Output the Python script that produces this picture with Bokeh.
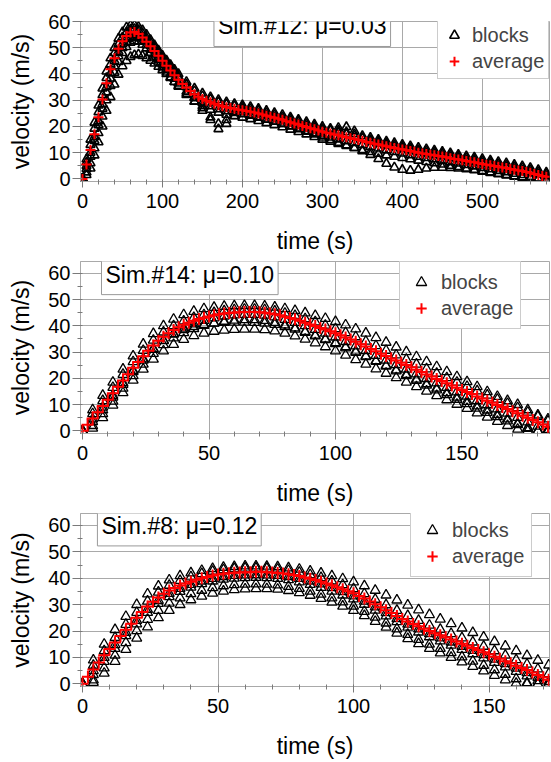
from bokeh.plotting import figure
from bokeh.layouts import column
from bokeh.models import Label, Legend, LegendItem, SingleIntervalTicker, FixedTicker, Range1d
from bokeh.embed import file_html
from bokeh.resources import INLINE

FONT = "Liberation Sans"

# ---------------- Panel 1: Sim.#12, mu=0.03 ----------------
t1_avg = list(range(0, 585, 5))
v1_avg = [0, 5.5, 11, 17, 23.5, 30.3, 36.5, 41.8, 46, 49.6, 52.5, 54.5, 55.8, 56, 55.2, 53.9, 52.3, 50.6,
          48.8, 46.9, 45, 43.1, 41.3, 39.5, 37.8, 36.2, 34.8, 33.5, 32.3, 31.3, 30.5, 29.8, 29.2, 28.6,
          28.1, 27.7, 27.3, 27, 26.7, 26.4, 26.2, 25.9, 25.6, 25.3, 24.9, 24.5, 24.1, 23.7, 23.3, 22.9,
          22.5, 22, 21.6, 21.1, 20.7, 20.2, 19.8, 19.3, 18.9, 18.4, 18, 17.6, 17.3, 16.9, 16.6, 16.2,
          15.9, 15.5, 15.2, 14.8, 14.5, 14.1, 13.8, 13.4, 13.1, 12.7, 12.4, 12.1, 11.8, 11.5, 11.2, 10.9,
          10.6, 10.3, 10, 9.7, 9.5, 9.2, 9, 8.7, 8.5, 8.2, 7.9, 7.6, 7.4, 7.1, 6.8, 6.5, 6.3, 6, 5.7,
          5.4, 5.2, 4.9, 4.6, 4.3, 4.1, 3.8, 3.5, 3.2, 3, 2.6, 2.3, 1.9, 1.5, 1.1, 0.8]
t1_blk = list(range(0, 125, 5)) + list(range(130, 590, 10))
b1_1 = [0, 7.5, 15, 21.5, 28, 34.5, 41, 46, 50, 53.5, 56, 57.8, 58.5, 58.6, 58, 56.7, 55, 53, 51, 49,
        47, 45.2, 43.5, 41.7, 40,
        37, 34.5, 32.6, 31.2, 30.1, 29.3, 28.6, 28.1, 27.5, 26.8, 26, 25.2, 24.4, 23.5, 22.6, 21.7,
        20.8, 19.9, 19.2, 18.5, 17.8, 17.1, 16.4, 15.7, 15.0, 14.3, 13.7, 13.1, 12.5, 11.9, 11.4, 10.9,
        10.4, 9.8, 9.3, 8.7, 8.2, 7.6, 7.1, 6.5, 6.0, 5.4, 4.9, 4.2, 3.4, 2.5]
b1_2 = [0, 6.3, 13, 19.2, 25.5, 32, 38.5, 43.7, 48, 51.3, 54, 55.9, 57, 57.2, 56.8, 55.5, 53.8, 52.1,
        50.2, 48.3, 46.3, 44.4, 42.6, 40.8, 39,
        36, 33.5, 31.6, 30.3, 29.2, 28.4, 27.8, 27.3, 26.7, 26, 25.2, 24.4, 23.6, 22.7, 21.8, 20.9, 20,
        19.1, 18.4, 17.7, 17, 16.3, 15.6, 14.9, 14.2, 13.5, 12.9, 12.3, 11.7, 11.1, 10.6, 10.1, 9.6, 9,
        8.5, 7.9, 7.4, 6.8, 6.3, 5.7, 5.2, 4.6, 4.1, 3.4, 2.6, 1.8]
b1_3 = [0, 3.8, 8.5, 14.5, 20.5, 26.8, 33, 38.3, 43, 46.8, 50, 52.2, 53.8, 54.1, 53.8, 52.6, 51, 49.3,
        47.5, 45.6, 43.7, 41.8, 40, 38.2, 36.4,
        33.3, 30.8, 29, 27.7, 26.6, 25.8, 25.2, 24.7, 24.1, 23.4, 22.6, 21.8, 21, 20.1, 19.2, 18.3, 17.4,
        16.5, 15.8, 15.1, 14.4, 13.7, 13, 12.3, 11.6, 10.9, 10.3, 9.7, 9.1, 8.5, 8, 7.5, 7, 6.4, 5.9,
        5.3, 4.8, 4.2, 3.7, 3.1, 2.6, 2, 1.5, 0.8, 0.2, 0]
b1_4 = [0, 2.5, 6, 11.7, 17.5, 23.8, 30, 35.5, 40.5, 44.6, 48, 50.3, 52, 52.5, 52.3, 51.2, 49.8, 48.1,
        46.3, 44.4, 42.5, 40.6, 38.8, 37, 35.2,
        32, 29.5, 27.8, 26.4, 25.3, 24.5, 23.9, 23.4, 22.8, 22.1, 21.3, 20.5, 19.7, 18.8, 17.9, 17, 16,
        15, 14.2, 13.4, 12.6, 11.8, 11, 10.3, 9.6, 9, 8.5, 8, 7.5, 7, 6.5, 6, 5.5, 5, 4.5, 4, 3.5, 3,
        2.5, 2, 1.5, 1, 0.6, 0.2, 0, 0]
b1_5 = [0, 1.5, 4, 9, 14, 20, 26, 31.2, 36, 39.8, 43, 45, 46.5, 47.2, 47.5, 46.9, 46, 45.1, 44, 42.8,
        41.5, 40, 38.5, 37, 35.5,
        32.5, 29.5, 26, 22.5, 19, 21, 24, 25.5, 24.5, 23.5, 22.7, 21.9, 21, 20, 19, 18, 17, 15.8, 14.8,
        13.8, 12.8, 11.8, 10.6, 9.2, 7.6, 5.8, 4.4, 3.5, 3.2, 3.5, 4, 4.3, 4.3, 4.2, 4, 3.7, 3.3, 2.8,
        2.3, 1.8, 1.3, 0.9, 0.5, 0.2, 0, 0]
b1_6 = [0, 5, 10, 16, 22, 28.5, 35, 40.2, 45, 48.5, 51.5, 53.5, 55, 55.3, 55, 54, 52.5, 50.8, 49, 47.3,
        45.5, 43.8, 42, 40.2, 38.5,
        35, 31, 27, 23.5, 21, 22.5, 25.5, 26.5, 25.8, 25, 24.3, 23.6, 22.8, 21.8, 20.9, 20, 19.2, 18.5,
        18.5, 19.5, 19.8, 18.2, 15.5, 14.3, 13.5, 12.8, 12.2, 11.6, 11, 10.4, 9.8, 9.3, 8.8, 8.2, 7.7,
        7.1, 6.6, 6, 5.5, 4.9, 4.4, 3.8, 3.2, 2.6, 1.8, 1]

# ---------------- Panel 2: Sim.#14, mu=0.10 ----------------
t2_avg = list(range(0, 186, 2))
v2_avg = [0, 2.3, 4.7, 7.1, 9.5, 11.9, 14.3, 16.8, 19.2, 21.6, 24, 26.2, 28.4, 30.5, 32.5, 34.3, 35.8,
          37.2, 38.4, 39.5, 40.4, 41.2, 41.9, 42.6, 43.1, 43.6, 44, 44.4, 44.7, 44.9, 45.1, 45.2, 45.3,
          45.3, 45.3, 45.2, 45, 44.7, 44.4, 44, 43.5, 43, 42.5, 41.9, 41.2, 40.5, 39.9, 39.2, 38.6, 37.9,
          37.2, 36.4, 35.6, 34.8, 33.9, 33, 32.1, 31.2, 30.3, 29.4, 28.5, 27.6, 26.8, 25.9, 25.1, 24.2,
          23.3, 22.4, 21.5, 20.7, 19.8, 19, 18.1, 17.3, 16.4, 15.6, 14.8, 14, 13.1, 12.3, 11.5, 10.7, 9.9,
          9.1, 8.3, 7.5, 6.7, 5.8, 5, 4.1, 3.3, 2.4, 1.6]
t2_blk = list(range(0, 188, 4))
b2_1 = [0, 8, 13.5, 18.5, 23.5, 28.5, 33, 37, 40, 42.5, 44.2, 45.5, 46.5, 47, 47.4, 47.6, 47.7, 47.7,
        47.5, 47.1, 46.5, 45.8, 44.9, 43.9, 42.8, 41.6, 40.3, 38.8, 37.2, 35.5, 33.7, 31.9, 30.1, 28.2,
        26.3, 24.4, 22.5, 20.6, 18.7, 16.8, 14.9, 13.1, 11.5, 10, 8, 6, 4.5]
b2_2 = [0, 6.5, 11.5, 16.5, 21.5, 26.3, 30.6, 34.5, 37.6, 40, 41.8, 43.1, 44.2, 45, 45.7, 46.1, 46.3,
        46.3, 46.1, 45.6, 44.8, 43.9, 42.7, 41.5, 40.2, 38.9, 37.4, 35.8, 34.1, 32.4, 30.6, 28.9, 27.2,
        25.4, 23.6, 21.9, 20.2, 18.5, 16.9, 15.2, 13.6, 12, 10.4, 8.8, 7.1, 5.4, 3.7]
b2_3 = [0, 3.5, 8, 12.8, 17.7, 22.5, 26.9, 31, 34.3, 37, 39.1, 40.7, 42, 43, 43.7, 44.1, 44.3, 44.3,
        44, 43.4, 42.4, 41.3, 40, 38.6, 37.2, 35.7, 34, 32.3, 30.5, 28.7, 26.9, 25.2, 23.5, 21.7, 19.9,
        18.2, 16.5, 14.8, 13.2, 11.5, 9.9, 8.3, 6.7, 5.1, 3.4, 1.8, 0.5]
b2_4 = [0, 2, 6.5, 11.3, 16.2, 21, 25.4, 29.5, 32.8, 35.4, 37.4, 38.9, 40.1, 41, 41.7, 42.1, 42.3,
        42.3, 42, 41.3, 40.3, 39.2, 37.8, 36.4, 35, 33.6, 32, 30.3, 28.5, 26.7, 24.9, 23.2, 21.5, 19.7,
        17.9, 16.2, 14.5, 12.8, 11.2, 9.5, 7.9, 6.2, 4.5, 2.8, 1.2, 0, 0]
b2_5 = [0, 1, 5, 9.8, 14.5, 19.3, 23.5, 27.3, 30.4, 32.9, 34.8, 36.2, 37.2, 37.9, 38.3, 38.6, 38.7,
        38.7, 38.5, 38, 37.2, 36.1, 34.9, 33.5, 32, 30.4, 28.8, 27.1, 25.4, 23.6, 21.9, 20.2, 18.5, 16.8,
        15.1, 13.4, 11.8, 10.1, 8.5, 6.8, 5.2, 3.6, 2, 0.6, 0, 0, 0]
b2_6 = [0, 4.5, 9, 13.5, 18.3, 23, 27.4, 31.3, 34.4, 36.8, 38.5, 39.7, 40.5, 41, 41.3, 41.4, 41.4,
        41.3, 41, 40.5, 39.7, 38.7, 37.5, 36.1, 34.7, 33.2, 31.6, 29.9, 28.2, 26.4, 24.6, 22.8, 21, 19.2,
        17.4, 15.6, 13.8, 12, 10.3, 8.6, 7, 5.4, 3.8, 2.3, 0.9, 0, 0]

# ---------------- Panel 3: Sim.#8, mu=0.12 ----------------
t3_avg = list(range(0, 174, 2))
v3_avg = [0, 2.7, 5.4, 8.1, 10.8, 13.2, 15.7, 18.1, 20.5, 22.8, 25, 27.2, 29.3, 31.1, 32.7, 34.1, 35.3,
          36.3, 37.2, 38, 38.7, 39.4, 40, 40.5, 41, 41.4, 41.7, 41.9, 42.1, 42.2, 42.3, 42.3, 42.4, 42.4,
          42.3, 42.2, 42, 41.8, 41.5, 41.2, 40.8, 40.3, 39.8, 39.3, 38.7, 38, 37.3, 36.6, 35.8, 35.1,
          34.3, 33.3, 32.3, 31.2, 30.1, 29, 27.9, 26.8, 25.7, 24.6, 23.6, 22.7, 21.8, 20.9, 20, 19.2,
          18.4, 17.6, 16.8, 16, 15.2, 14.4, 13.6, 12.8, 12, 11.2, 10.3, 9.5, 8.6, 7.8, 6.9, 6, 5.2, 4.3,
          3.4, 2.5, 1.6]
t3_blk = list(range(0, 176, 4))
b3_1 = [0, 9, 15, 20.5, 25.5, 30, 34, 37, 39.3, 40.9, 42, 42.9, 43.6, 44.1, 44.4, 44.6, 44.6, 44.5,
        44.3, 43.9, 43.4, 42.7, 41.9, 40.9, 39.8, 38.6, 37.1, 35.4, 33.6, 31.7, 29.8, 28, 26.2, 24.5,
        22.8, 21.1, 19.4, 17.7, 16, 14.3, 12.5, 10.7, 8.9, 7.1]
b3_2 = [0, 7, 12.5, 17.5, 22.5, 27, 31.3, 34.7, 37.3, 39.1, 40.5, 41.7, 42.6, 43.2, 43.6, 43.8, 43.8,
        43.7, 43.4, 42.9, 42.2, 41.3, 40.2, 38.9, 37.5, 36, 34.1, 32, 29.9, 27.8, 25.8, 24, 22.2, 20.6,
        19, 17.4, 15.8, 14.2, 12.5, 10.8, 9.1, 7.4, 5.6, 3.8]
b3_3 = [0, 3.5, 8.5, 13.4, 18.2, 22.7, 27, 30.4, 33, 35, 36.6, 37.9, 38.9, 39.6, 40, 40.2, 40.3, 40.2,
        39.9, 39.4, 38.6, 37.6, 36.5, 35.1, 33.6, 32.1, 30.1, 27.9, 25.7, 23.5, 21.4, 19.6, 17.8, 16.2,
        14.6, 13, 11.4, 9.8, 8.1, 6.4, 4.7, 3, 1.2, 0]
b3_4 = [0, 1.5, 6, 10.8, 15.6, 20.1, 24.4, 27.8, 30.5, 32.5, 34.1, 35.4, 36.4, 37.1, 37.5, 37.7, 37.8,
        37.7, 37.4, 36.9, 36.1, 35.1, 33.9, 32.5, 31, 29.4, 27.4, 25.2, 23, 20.8, 18.7, 16.8, 15, 13.4,
        11.8, 10.2, 8.6, 7, 5.3, 3.6, 1.9, 0.4, 0, 0]
b3_5 = [0, 0.5, 4, 8.5, 13, 17.3, 21.5, 25, 27.8, 30, 31.8, 33.2, 34.3, 35.1, 35.6, 35.9, 36, 36, 35.8,
        35.3, 34.5, 33.5, 32.3, 30.9, 29.4, 27.8, 25.8, 23.6, 21.4, 19.2, 17.1, 15.2, 13.4, 11.7, 10,
        8.3, 6.6, 4.9, 3.2, 1.5, 0.2, 0, 0, 0]
b3_6 = [0, 5, 10, 14.8, 19.5, 24, 28.2, 31.6, 34.2, 36.1, 37.6, 38.9, 39.9, 40.6, 41, 41.2, 41.3, 41.2,
        41, 40.6, 39.9, 38.9, 37.8, 36.4, 34.9, 33.3, 31.3, 29.1, 26.9, 24.7, 22.6, 20.8, 19, 17.4, 15.8,
        14.2, 12.6, 11, 9.3, 7.6, 5.9, 4.2, 2.4, 0.8]

titles = ["Sim.#12: \u03bc=0.03", "Sim.#14: \u03bc=0.10", "Sim.#8: \u03bc=0.12"]
legend_labels = ["blocks", "average"]
x_label = "time (s)"
y_label = "velocity (m/s)"

GRID = "#a9a9a9"
TICK = "#7a7a7a"


def panel(h, btop, bbot, xr, yr, xstep, xminor, xgrid, t_avg, v_avg, t_blk, blocks, title, title_xy,
          leg_loc, leg_gw, leg_pad, tri_size, tri_lw, plus_size):
    p = figure(width=550, height=h, x_range=Range1d(*xr), y_range=Range1d(*yr),
               output_backend="svg", toolbar_location=None,
               min_border_left=80, min_border_right=1, min_border_top=btop, min_border_bottom=bbot)
    p.background_fill_color = "white"
    p.border_fill_color = "white"
    p.outline_line_color = GRID
    p.outline_line_width = 1

    p.xaxis.ticker = SingleIntervalTicker(interval=xstep, num_minor_ticks=xminor)
    p.yaxis.ticker = SingleIntervalTicker(interval=10, num_minor_ticks=2)
    p.xgrid.ticker = FixedTicker(ticks=xgrid)
    p.ygrid.ticker = FixedTicker(ticks=[10, 20, 30, 40, 50, 60])
    p.xgrid.grid_line_color = GRID
    p.ygrid.grid_line_color = GRID
    p.xaxis.axis_label = x_label
    p.yaxis.axis_label = y_label
    for ax in (p.xaxis[0], p.yaxis[0]):
        ax.axis_line_color = GRID
        ax.major_tick_line_color = TICK
        ax.minor_tick_line_color = TICK
        ax.major_label_text_font = FONT
        ax.major_label_text_font_size = "20px"
        ax.major_label_text_color = "black"
        ax.axis_label_text_font = FONT
        ax.axis_label_text_font_size = "23px"
        ax.axis_label_text_font_style = "normal"
        ax.axis_label_text_color = "black"
        ax.minor_tick_in = 2
        ax.minor_tick_out = 3
        ax.major_tick_in = 0
    p.yaxis.major_tick_out = 8
    p.yaxis.major_label_standoff = 2
    p.yaxis.axis_label_standoff = 11
    p.xaxis.major_tick_out = 6
    p.xaxis.major_label_standoff = 6
    p.xaxis.axis_label_standoff = 17

    blk_r = []
    for b in blocks:
        n = min(len(t_blk), len(b))
        r = p.scatter(t_blk[:n], b[:n], marker="triangle", size=tri_size, fill_color=None,
                      line_color="black", line_width=tri_lw)
        blk_r.append(r)
    n = min(len(t_avg), len(v_avg))
    avg_r = p.scatter(t_avg[:n], v_avg[:n], marker="cross", size=plus_size, line_color="#ff0000",
                      line_width=2)

    lab = Label(x=title_xy[0], y=title_xy[1], text=title, text_font=FONT, text_font_size="23px",
                text_baseline="middle", text_align="left", text_color="black",
                background_fill_color="white", border_line_color="#999999", padding=(4, 7))
    p.add_layout(lab)

    leg = Legend(items=[LegendItem(label=legend_labels[0], renderers=[blk_r[0]]),
                        LegendItem(label=legend_labels[1], renderers=[avg_r])],
                 location=leg_loc, label_text_font=FONT, label_text_font_size="20px",
                 glyph_width=leg_gw, glyph_height=26, label_height=24, spacing=0, padding=leg_pad,
                 label_standoff=6, border_line_color="#999999", background_fill_alpha=1.0,
                 margin=0)
    p.add_layout(leg)
    return p


p1 = panel(256, 21, 73, (-2.5, 584), (-1, 60), 100, 5, [100, 200, 300, 400, 500],
           t1_avg, v1_avg, t1_blk, [b1_1, b1_2, b1_3, b1_4, b1_5, b1_6], titles[0], (164.4, 58.1),
           (357, 102), 24, 4, 9, 1.6, 10)
p2 = panel(252, 5, 72, (-0.8, 184.6), (-1, 64.5), 50, 5, [50, 100, 150],
           t2_avg, v2_avg, t2_blk, [b2_1, b2_2, b2_3, b2_4, b2_5, b2_6], titles[1], (7.5, 59.5),
           (319, 104), 28, 7, 10, 1.3, 12)
p3 = panel(253, 5, 73, (-0.74, 172.3), (-1, 64.5), 50, 5, [50, 100, 150],
           t3_avg, v3_avg, t3_blk, [b3_1, b3_2, b3_3, b3_4, b3_5, b3_6], titles[2], (5.5, 59.8),
           (330, 109), 28, 7, 10, 1.3, 12)

layout = column(p1, p2, p3, spacing=0)
open("out.html", "w").write(file_html(layout, INLINE))
